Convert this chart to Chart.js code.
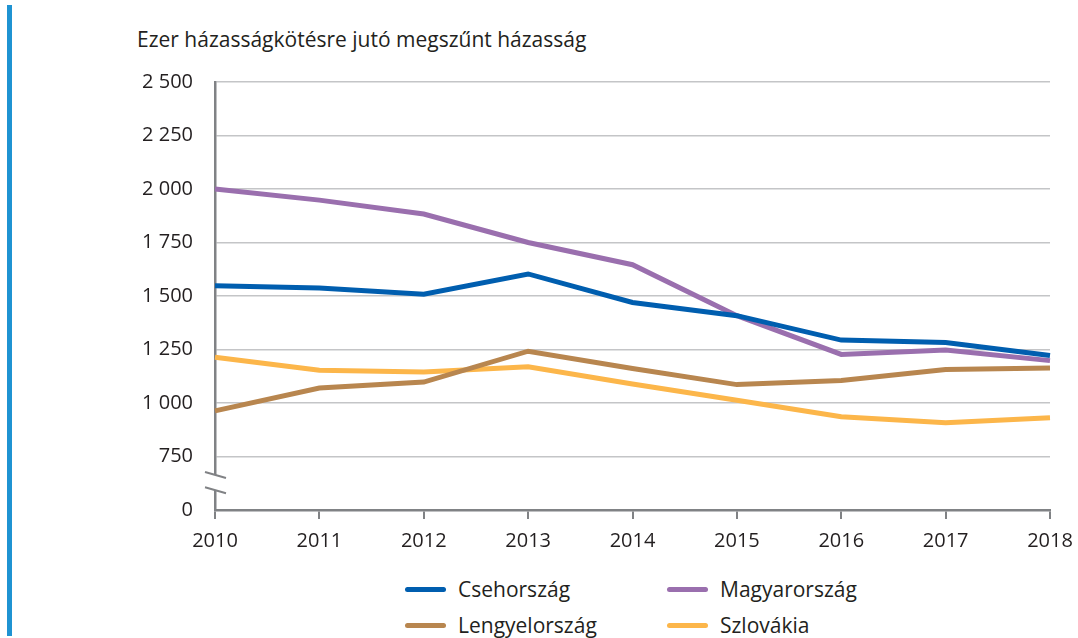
<!DOCTYPE html>
<html lang="hu">
<head>
  <meta charset="UTF-8" />
  <title>Megszűnt házasságok</title>
  <script src="https://cdn.jsdelivr.net/npm/chart.js"></script>
  <style>
    body {
      margin: 0;
      padding: 0;
      background: #fff;
      font-family: "Open Sans", "Noto Sans", sans-serif;
      color: #231f20;
    }
    .wrap {
      position: relative;
      width: 1078px;
      height: 638px;
      overflow: hidden;
    }
    .bar {
      position: absolute;
      left: 7px;
      top: 5px;
      width: 5px;
      height: 631px;
      background: #1f93d2;
    }
    .title {
      position: absolute;
      left: 137px;
      top: 25px;
      font-size: 21px;
      white-space: nowrap;
    }
    canvas {
      position: absolute;
      left: 0;
      top: 0;
    }
    .legend {
      position: absolute;
      left: 405px;
      top: 574px;
      display: grid;
      grid-template-columns: 262px 260px;
      row-gap: 6px;
      font-size: 21px;
    }
    .legend .item {
      display: flex;
      align-items: center;
      height: 30px;
    }
    .legend .swatch {
      width: 41px;
      height: 5px;
      border-radius: 3px;
      margin-right: 12px;
    }
  </style>
</head>
<body>
  <div class="wrap">
    <div class="bar"></div>
    <div class="title">Ezer házasságkötésre jutó megszűnt házasság</div>
    <canvas id="chart" width="1078" height="560"></canvas>
    <div class="legend" id="legend"></div>
  </div>

  <script>
    const years = ["2010", "2011", "2012", "2013", "2014", "2015", "2016", "2017", "2018"];
    const csehorszag = [1548, 1537, 1508, 1603, 1470, 1408, 1294, 1283, 1222];
    const magyarorszag = [2000, 1948, 1883, 1750, 1646, 1408, 1227, 1248, 1198];
    const lengyelorszag = [963, 1070, 1098, 1242, 1161, 1086, 1105, 1156, 1164];
    const szlovakia = [1214, 1153, 1145, 1169, 1089, 1013, 936, 908, 931];
    const yTicks = [0, 750, 1000, 1250, 1500, 1750, 2000, 2250, 2500];

    // the axis is broken between 0 and 750: above the break everything is shifted down by 500
    const BREAK_SHIFT = 500;
    const toAxis = v => (v === 0 ? 0 : v - BREAK_SHIFT);
    const fromAxis = v => (v === 0 ? 0 : v + BREAK_SHIFT);
    const fmt = v => v.toLocaleString("en-US").replace(/,/g, " ");

    const series = [
      { label: "Csehország", data: csehorszag, color: "#005eaf" },
      { label: "Magyarország", data: magyarorszag, color: "#9a6fae" },
      { label: "Lengyelország", data: lengyelorszag, color: "#b8864f" },
      { label: "Szlovákia", data: szlovakia, color: "#fcb64a" }
    ];

    const axisColor = "#808285";

    const axisBreak = {
      id: "axisBreak",
      afterDraw(chart) {
        const y = chart.scales.y;
        const ctx = chart.ctx;
        const x = chart.chartArea.left;
        const p0 = y.getPixelForValue(0);
        const p1 = y.getPixelForValue(toAxis(750));
        const h = p0 - p1;
        const a = p0 - h * 0.655;
        const b = p0 - h * 0.37;
        ctx.save();
        ctx.fillStyle = "#fff";
        ctx.fillRect(x - 4, a, 8, b - a);
        ctx.strokeStyle = axisColor;
        ctx.lineWidth = 2;
        [a, b].forEach(c => {
          ctx.beginPath();
          ctx.moveTo(x - 10, c - 3);
          ctx.lineTo(x + 11, c + 3);
          ctx.stroke();
        });
        ctx.restore();
      }
    };

    const chart = new Chart(document.getElementById("chart").getContext("2d"), {
      type: "line",
      data: {
        labels: years,
        datasets: series.map(s => ({
          label: s.label,
          data: s.data.map(toAxis),
          borderColor: s.color,
          backgroundColor: s.color,
          borderWidth: 5,
          pointRadius: 0,
          tension: 0,
          fill: false
        }))
      },
      options: {
        responsive: false,
        animation: false,
        layout: { padding: { left: 0, right: 28, top: 82, bottom: 0 } },
        plugins: {
          legend: { display: false },
          tooltip: { enabled: false }
        },
        scales: {
          x: {
            offset: false,
            afterFit: scale => {
              scale.height = 50;
              scale.paddingLeft = 0;
              scale.paddingRight = 0;
            },
            grid: {
              drawOnChartArea: false,
              drawTicks: true,
              tickLength: 9,
              color: axisColor,
              lineWidth: 2
            },
            border: { display: true, color: axisColor, width: 2.5 },
            ticks: {
              color: "#231f20",
              font: { family: "Open Sans", size: 20 },
              padding: 10,
              maxRotation: 0
            }
          },
          y: {
            min: 0,
            max: toAxis(2500),
            afterFit: scale => { scale.width = 215; },
            afterBuildTicks: scale => {
              scale.ticks = yTicks.map(v => ({ value: toAxis(v) }));
            },
            grid: {
              drawTicks: false,
              color: ctx => (ctx.tick && ctx.tick.value === 0 ? "rgba(0,0,0,0)" : "#c4c5c7"),
              lineWidth: 1.5
            },
            border: { display: true, color: axisColor, width: 2.5 },
            ticks: {
              color: "#231f20",
              font: { family: "Open Sans", size: 20 },
              padding: 22,
              callback: v => fmt(fromAxis(v))
            }
          }
        }
      },
      plugins: [axisBreak]
    });

    const legend = document.getElementById("legend");
    series.forEach(s => {
      const item = document.createElement("div");
      item.className = "item";
      item.innerHTML = `<span class="swatch" style="background:${s.color}"></span>${s.label}`;
      legend.appendChild(item);
    });
  </script>
</body>
</html>
